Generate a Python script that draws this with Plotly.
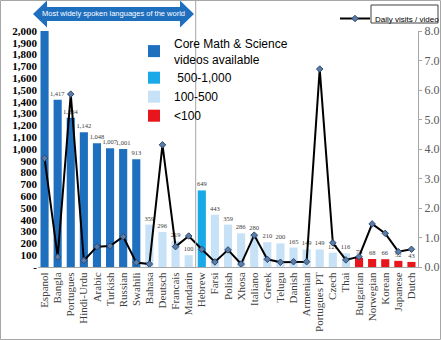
import plotly.graph_objects as go

languages = ["Espanol", "Bangla", "Portugues", "Hindi-Urdu", "Arabic", "Turkish", "Russian",
             "Swahili", "Bahasa", "Deutsch", "Francais", "Mandarin", "Hebrew", "Farsi",
             "Polish", "Xhosa", "Italiano", "Greek", "Telugu", "Danish", "Armenian",
             "Portugues PT", "Czech", "Thai", "Bulgarian", "Norwegian", "Korean",
             "Japanese", "Dutch"]
videos = [2050, 1417, 1264, 1142, 1048, 1007, 1001, 913, 359, 296, 219, 100, 649, 443,
          359, 286, 280, 210, 200, 165, 149, 149, 121, 116, 78, 68, 66, 52, 43]
groups = ["core"] * 8 + ["light"] * 4 + ["mid"] + ["light"] * 11 + ["low"] * 5
daily_visits = [3.69, 0.34, 5.86, 0.22, 0.69, 0.71, 1.03, 0.15, 0.10, 4.14, 0.69, 1.05,
                0.60, 0.17, 0.58, 0.10, 1.08, 0.26, 0.16, 0.18, 0.18, 6.71, 0.82, 0.24,
                0.35, 1.46, 1.14, 0.52, 0.60]

group_order = ["core", "mid", "light", "low"]
group_names = {"core": "Core Math & Science<br>videos available", "mid": " 500-1,000",
               "light": "100-500", "low": "<100"}
group_colors = {"core": "#1f6fbf", "mid": "#19a8e8", "light": "#c7e1f6", "low": "#e8151c"}

y_max = 2000
y2_max = 8
left_ticks = list(range(0, y_max + 1, 100))
left_ticktext = ["-" if v == 0 else f"{v:,}" for v in left_ticks]
right_ticks = list(range(0, y2_max + 1))
right_ticktext = [f"{v:.1f}" for v in right_ticks]

W, H = 441, 340
ML, MR, MT, MB = 38, 23, 31, 73
PW, PH = W - ML - MR, H - MT - MB


def px(x):
    return (x - ML) / PW


def py(y):
    return (H - MB - y) / PH


fig = go.Figure()
for g in group_order:
    xs = [l for l, gg in zip(languages, groups) if gg == g]
    ys = [v for v, gg in zip(videos, groups) if gg == g]
    txt = [f"{v:,}" if v <= y_max else "" for v in ys]
    fig.add_trace(go.Bar(
        x=xs, y=ys, name=group_names[g], marker=dict(color=group_colors[g], line=dict(width=0)),
        width=0.62, text=txt, textposition="outside", texttemplate="%{text}",
        textfont=dict(family="Liberation Serif", size=6.5, color="#404040"),
        outsidetextfont=dict(family="Liberation Serif", size=6.5, color="#404040"),
        constraintext="none", cliponaxis=True, legend="legend", hoverinfo="x+y"))

fig.add_trace(go.Scatter(
    x=languages, y=daily_visits, yaxis="y2", mode="lines+markers", name="Daily visits / video",
    line=dict(color="black", width=2),
    marker=dict(symbol="diamond", size=5, color="#5b7ca6", line=dict(color="#2d486c", width=1)),
    legend="legend2"))

shapes = []
# arrow banner
ax0, ax1, axh0, axh1 = 33, 194, 47, 180
ay_c, ay_h, ay_s = 14, 13.5, 7
path_pts = [(ax0, ay_c), (axh0, ay_c - ay_h), (axh0, ay_c - ay_s), (axh1, ay_c - ay_s),
            (axh1, ay_c - ay_h), (ax1, ay_c), (axh1, ay_c + ay_h), (axh1, ay_c + ay_s),
            (axh0, ay_c + ay_s), (axh0, ay_c + ay_h)]
path = "M " + " L ".join(f"{px(a):.5f},{py(b):.5f}" for a, b in path_pts) + " Z"
shapes.append(dict(type="path", xref="paper", yref="paper", path=path,
                   fillcolor="#1f6fbf", line=dict(width=0), layer="above"))
# separator line between groups
shapes.append(dict(type="line", xref="paper", yref="paper", x0=px(195.7), x1=px(195.7),
                   y0=0, y1=py(0), line=dict(color="#a6a6a6", width=1)))
# box around second legend text
shapes.append(dict(type="rect", xref="paper", yref="paper", x0=px(371), x1=px(438),
                   y0=py(23), y1=py(5), line=dict(color="#404040", width=1)))
# outer frame
shapes.append(dict(type="rect", xref="paper", yref="paper", x0=px(0.5), x1=px(440.5),
                   y0=py(339.5), y1=py(0.5), line=dict(color="#a6a6a6", width=1)))

fig.update_layout(
    width=W, height=H, margin=dict(l=ML, r=MR, t=MT, b=MB, autoexpand=False),
    paper_bgcolor="white", plot_bgcolor="white", barmode="overlay",
    showlegend=True,
    legend=dict(x=px(134), y=py(29), xanchor="left", yanchor="top",
                font=dict(family="Liberation Sans, Arial", size=12, color="black"),
                bgcolor="rgba(0,0,0,0)", tracegroupgap=2, itemwidth=30),
    legend2=dict(x=px(335), y=py(4), xanchor="left", yanchor="top",
                 font=dict(family="Liberation Sans, Arial", size=8, color="black"),
                 bgcolor="rgba(0,0,0,0)", itemwidth=30),
    xaxis=dict(categoryorder="array", categoryarray=languages, tickmode="array",
               tickvals=languages, ticktext=languages, tickangle=-90,
               tickfont=dict(family="Liberation Serif", size=11, color="#404040"),
               showline=True, linecolor="#a6a6a6", linewidth=1, ticks="", showgrid=False,
               range=[-0.5, len(languages) - 0.5]),
    yaxis=dict(range=[0, y_max], tickvals=left_ticks, ticktext=left_ticktext,
               tickfont=dict(family="Liberation Serif", size=11, color="black", weight="bold"),
               showgrid=False, zeroline=False, showline=False, ticks=""),
    yaxis2=dict(range=[0, y2_max], overlaying="y", side="right", tickvals=right_ticks,
                ticktext=right_ticktext,
                tickfont=dict(family="Liberation Serif", size=12, color="#595959"),
                showgrid=False, zeroline=False, showline=True, linecolor="#a6a6a6",
                ticks="outside", ticklen=3, tickcolor="#a6a6a6"),
    shapes=shapes,
    annotations=[dict(xref="paper", yref="paper", x=px((axh0 + axh1) / 2), y=py(ay_c),
                      text="Most widely spoken languages of the world", showarrow=False,
                      font=dict(family="Liberation Sans, Arial", size=7.5, color="white"),
                      xanchor="center", yanchor="middle")],
)

fig.write_html("out.html")
